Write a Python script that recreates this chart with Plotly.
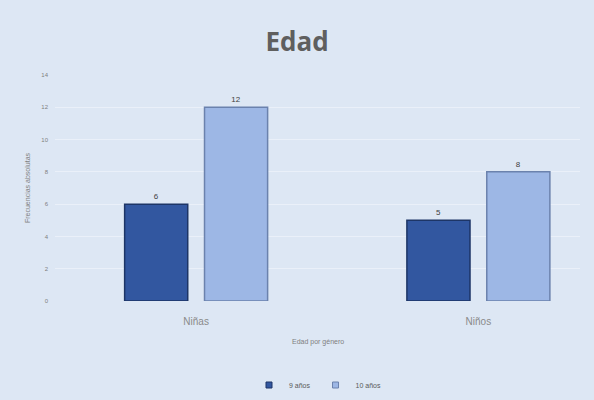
import plotly.graph_objects as go

categories = ["Niñas", "Niños"]
series_names = ["9 años", "10 años"]
values_9 = [6, 5]
values_10 = [12, 8]
y_ticks = [0, 2, 4, 6, 8, 10, 12, 14]

BG = "#dde7f4"
C9 = "#3257a0"
C10 = "#9db7e5"
fig = go.Figure()
fig.add_trace(go.Bar(
    x=categories, y=values_9, name=series_names[0], showlegend=False,
    marker=dict(color=C9, line=dict(color="#1d3566", width=1.5)),
    text=[str(v) for v in values_9], textposition="outside",
    textfont=dict(size=8, color="#404040", family="Liberation Sans"),
    cliponaxis=False,
))
fig.add_trace(go.Bar(
    x=categories, y=values_10, name=series_names[1], showlegend=False,
    marker=dict(color=C10, line=dict(color="#6b82ad", width=1.5)),
    text=[str(v) for v in values_10], textposition="outside",
    textfont=dict(size=8, color="#404040", family="Liberation Sans"),
    cliponaxis=False,
))
# legend entries with small square markers
for name, col, lc in [(series_names[0], C9, "#1d3566"), (series_names[1], C10, "#6b82ad")]:
    fig.add_trace(go.Scatter(x=[None], y=[None], mode="markers", name=name,
                             marker=dict(symbol="square", size=6, color=col, line=dict(color=lc, width=1))))

fig.update_layout(
    width=594, height=400,
    paper_bgcolor=BG, plot_bgcolor=BG,
    margin=dict(l=55, r=14, t=75, b=99, autoexpand=False),
    barmode="group", bargap=0.434, bargroupgap=0.21,
    title=dict(text="<b>Edad</b>", x=0.5, xanchor="center", y=1 - 42/400, yanchor="middle",
               font=dict(size=26, color="#5f5f5f", family="Open Sans")),
    font=dict(family="Liberation Sans", color="#7f7f7f"),
    showlegend=True,
    legend=dict(orientation="h", x=0.5, xanchor="center", yref="container", y=1 - 385/400, yanchor="middle",
                font=dict(size=7, color="#595959"), bgcolor="rgba(0,0,0,0)",
                itemwidth=30, traceorder="normal", tracegroupgap=0),
    xaxis=dict(type="category", range=[-0.5, 1.36], showgrid=False, showline=False,
               ticks="", tickfont=dict(size=10, color="#8a8a8a"), ticklabelstandoff=13,
               zeroline=False),
    yaxis=dict(range=[0, 14], tickvals=y_ticks, showgrid=True, gridcolor="#eaf0f9",
               gridwidth=1, zeroline=False, showline=False,
               tickfont=dict(size=6, color="#7f7f7f"), ticklabelstandoff=6,
               title=dict(text="Frecuencias absolutas", font=dict(size=7, color="#7f7f7f"), standoff=9)),
    annotations=[dict(text="Edad por género", x=0.5, xref="paper", y=(301-342)/226, yref="paper",
                      showarrow=False, font=dict(size=7, color="#7f7f7f"), yanchor="middle")],
)

fig.write_html("out.html")
